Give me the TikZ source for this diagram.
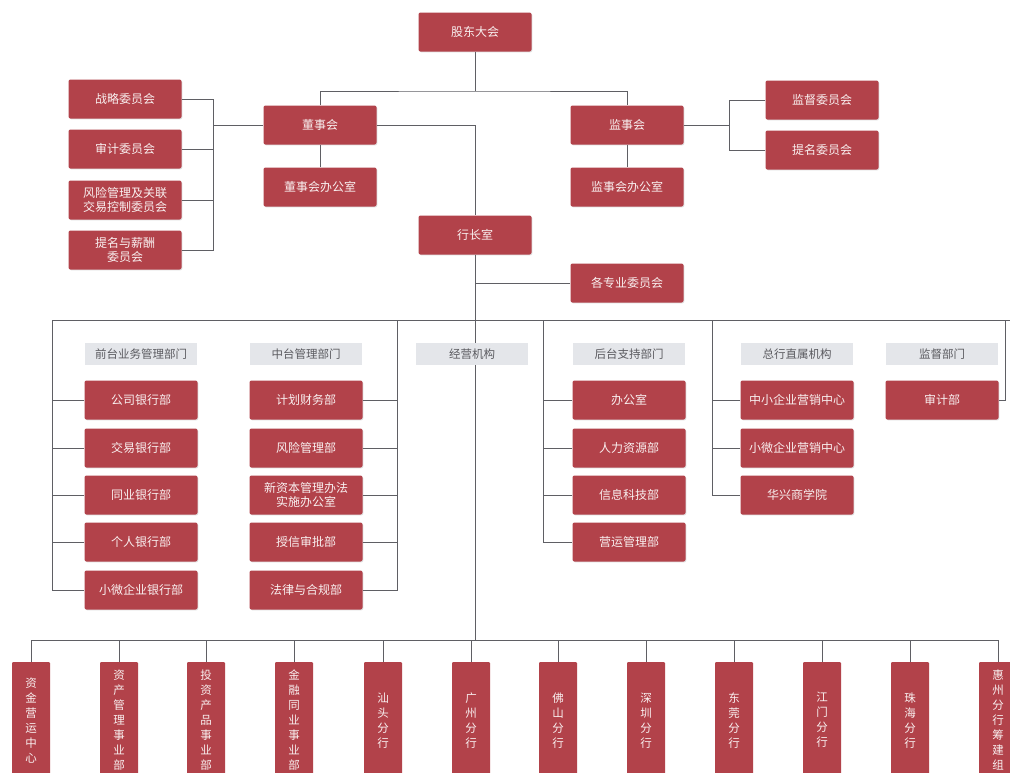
\documentclass[tikz,border=0pt]{standalone}
\usepackage{fontspec}
\newfontfamily\cjk{Noto Sans CJK SC}
\usetikzlibrary{shadows}
\definecolor{boxred}{RGB}{178,66,74}
\definecolor{hdrgray}{RGB}{228,230,234}
\definecolor{hdrtext}{RGB}{90,90,95}
\definecolor{linegray}{RGB}{95,95,100}
\begin{document}
\begin{tikzpicture}[x=1pt,y=-1pt,
  redbox/.style={rectangle, rounded corners=2pt, fill=boxred, text=white!92!boxred,
    minimum width=113pt, minimum height=39pt, inner sep=1pt, align=center,
    font=\cjk\fontsize{12}{14}\selectfont,
    drop shadow={opacity=0.25, shadow xshift=0.8pt, shadow yshift=-0.8pt}},
  vbox/.style={rectangle, rounded corners=1pt, fill=boxred, text=white!92!boxred,
    minimum width=38pt, minimum height=116pt, inner sep=1pt, align=center, anchor=north,
    font=\cjk\fontsize{11.5}{15}\selectfont},
  hdr/.style={rectangle, fill=hdrgray, text=hdrtext, minimum width=112pt, minimum height=22pt,
    inner sep=1pt, font=\cjk\fontsize{11.5}{13}\selectfont},
  conn/.style={draw=linegray, line width=0.7pt}]
\clip (0,0) rectangle (1010,772);
\fill[white] (0,0) rectangle (1010,772);

% top level
\node[redbox] (gd) at (475,32) {股东大会};
\node[redbox] (dsh) at (320,125) {董事会};
\node[redbox] (dshb) at (320,187) {董事会办公室};
\node[redbox] (jsh) at (627,125) {监事会};
\node[redbox] (jshb) at (627,187) {监事会办公室};
\node[redbox] (c1) at (125,99) {战略委员会};
\node[redbox] (c2) at (125,149) {审计委员会};
\node[redbox] (c3) at (125,200) {风险管理及关联\\交易控制委员会};
\node[redbox] (c4) at (125,250) {提名与薪酬\\委员会};
\node[redbox] (s1) at (822,100) {监督委员会};
\node[redbox] (s2) at (822,150) {提名委员会};
\node[redbox] (hz) at (475,235) {行长室};
\node[redbox] (zy) at (627,283) {各专业委员会};

% coordinates
\coordinate (tb) at (475,91);
\coordinate (lb) at (213,125);
\coordinate (rb) at (729,125);
\coordinate (m1) at (475,125);
\coordinate (gz) at (475,283);
\coordinate (busL) at (52,320);
\coordinate (busR) at (1010,320);
\coordinate (midR) at (397,320);
\coordinate (backL) at (543,320);
\coordinate (dirL) at (712,320);
\coordinate (supR) at (1005,320);
\coordinate (bb) at (475,640);

% connectors top
\draw[conn] (gd.south) -- (tb);
\draw[conn] (dsh.north) |- (tb) -| (jsh.north);
\draw[conn] (dsh.south) -- (dshb.north);
\draw[conn] (jsh.south) -- (jshb.north);
\draw[conn] (c1.east) -| (lb);
\draw[conn] (c4.east) -| (lb);
\draw[conn] (c2.east) -- (c2.east -| lb);
\draw[conn] (c3.east) -- (c3.east -| lb);
\draw[conn] (lb) -- (dsh.west);
\draw[conn] (jsh.east) -- (rb);
\draw[conn] (s1.west) -| (rb);
\draw[conn] (s2.west) -| (rb);
\draw[conn] (dsh.east) -- (m1) -- (hz.north);
\draw[conn] (hz.south) -- (bb);
\draw[conn] (gz) -- (zy.west);
\draw[conn] (busL) -- (busR);

% departments
\node[redbox] (f1) at (141,400) {公司银行部};
\node[redbox] (f2) at (141,448) {交易银行部};
\node[redbox] (f3) at (141,495) {同业银行部};
\node[redbox] (f4) at (141,542) {个人银行部};
\node[redbox] (f5) at (141,590) {小微企业银行部};
\node[redbox] (m1b) at (306,400) {计划财务部};
\node[redbox] (m2b) at (306,448) {风险管理部};
\node[redbox] (m3b) at (306,495) {新资本管理办法\\实施办公室};
\node[redbox] (m4b) at (306,542) {授信审批部};
\node[redbox] (m5b) at (306,590) {法律与合规部};
\node[redbox] (b1) at (629,400) {办公室};
\node[redbox] (b2) at (629,448) {人力资源部};
\node[redbox] (b3) at (629,495) {信息科技部};
\node[redbox] (b4) at (629,542) {营运管理部};
\node[redbox] (d1) at (797,400) {中小企业营销中心};
\node[redbox] (d2) at (797,448) {小微企业营销中心};
\node[redbox] (d3) at (797,495) {华兴商学院};
\node[redbox] (sj) at (942,400) {审计部};

\draw[conn] (busL) |- (f5.west);
\foreach \n in {f1,f2,f3,f4} \draw[conn] (\n.west) -- (\n.west -| busL);
\draw[conn] (midR) |- (m5b.east);
\foreach \n in {m1b,m2b,m3b,m4b} \draw[conn] (\n.east) -- (\n.east -| midR);
\draw[conn] (backL) |- (b4.west);
\foreach \n in {b1,b2,b3} \draw[conn] (\n.west) -- (\n.west -| backL);
\draw[conn] (dirL) |- (d3.west);
\foreach \n in {d1,d2} \draw[conn] (\n.west) -- (\n.west -| dirL);
\draw[conn] (supR) |- (sj.east);

% headers
\node[hdr] (h1) at (141,354) {前台业务管理部门};
\node[hdr] (h2) at (306,354) {中台管理部门};
\node[hdr] (h3) at (472,354) {经营机构};
\node[hdr] (h4) at (629,354) {后台支持部门};
\node[hdr] (h5) at (797,354) {总行直属机构};
\node[hdr] (h6) at (942,354) {监督部门};

% bottom units
\node[vbox] (o1) at (31,662) {资\\金\\营\\运\\中\\心};
\node[vbox] (o2) at (119,662) {资\\产\\管\\理\\事\\业\\部};
\node[vbox] (o3) at (206,662) {投\\资\\产\\品\\事\\业\\部};
\node[vbox] (o4) at (294,662) {金\\融\\同\\业\\事\\业\\部};
\node[vbox] (o5) at (383,662) {汕\\头\\分\\行};
\node[vbox] (o6) at (471,662) {广\\州\\分\\行};
\node[vbox] (o7) at (558,662) {佛\\山\\分\\行};
\node[vbox] (o8) at (646,662) {深\\圳\\分\\行};
\node[vbox] (o9) at (734,662) {东\\莞\\分\\行};
\node[vbox] (o10) at (822,662) {江\\门\\分\\行};
\node[vbox] (o11) at (910,662) {珠\\海\\分\\行};
\node[vbox] (o12) at (998,662) {惠\\州\\分\\行\\筹\\建\\组};

\draw[conn] (o1.north) |- (bb) -| (o12.north);
\foreach \n in {o2,o3,o4,o5,o6,o7,o8,o9,o10,o11} \draw[conn] (\n.north) -- (\n.north |- bb);
\end{tikzpicture}
\end{document}
